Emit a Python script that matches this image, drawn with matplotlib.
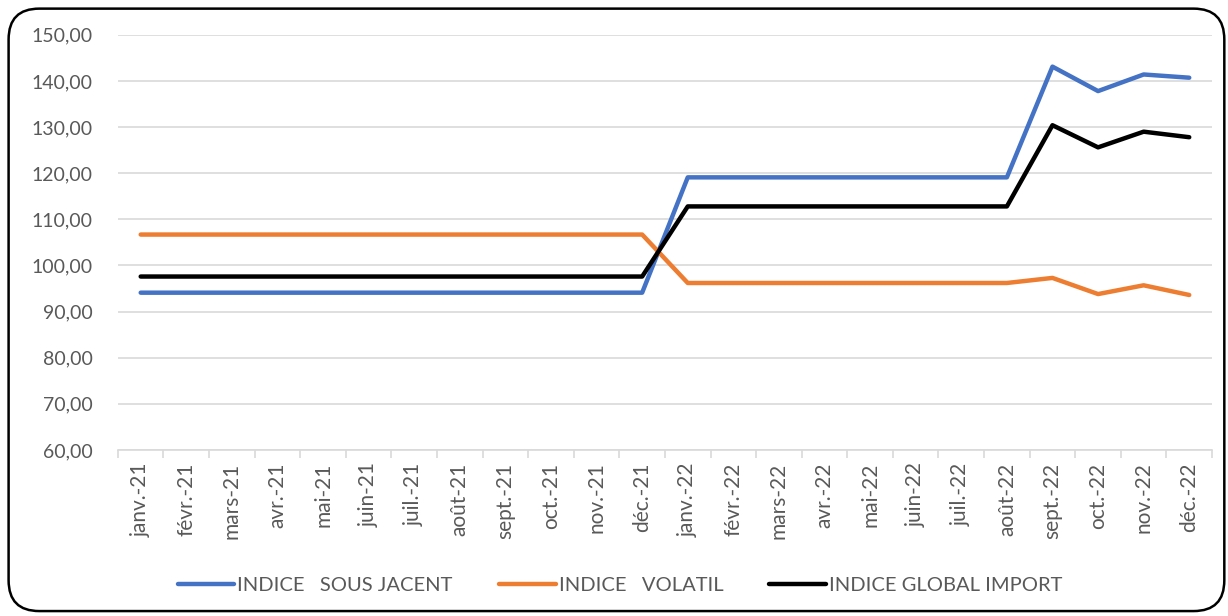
import matplotlib.pyplot as plt
from matplotlib.patches import FancyBboxPatch

plt.rcParams['font.family'] = ['Lato', 'DejaVu Sans']

mois = ['janv.-21', 'févr.-21', 'mars-21', 'avr.-21', 'mai-21', 'juin-21',
        'juil.-21', 'août-21', 'sept.-21', 'oct.-21', 'nov.-21', 'déc.-21',
        'janv.-22', 'févr.-22', 'mars-22', 'avr.-22', 'mai-22', 'juin-22',
        'juil.-22', 'août-22', 'sept.-22', 'oct.-22', 'nov.-22', 'déc.-22']

sous_jacent = [94.1] * 12 + [119.1] * 8 + [143.1, 137.8, 141.4, 140.7]
volatil = [106.7] * 12 + [96.2] * 8 + [97.3, 93.8, 95.7, 93.6]
global_import = [97.6] * 12 + [112.8] * 8 + [130.4, 125.6, 129.0, 127.8]

yticks = [60, 70, 80, 90, 100, 110, 120, 130, 140, 150]

fig = plt.figure(figsize=(12.28, 6.16), dpi=100)
ax = fig.add_axes([0.096, 0.2695, 0.891, 0.674])

x = range(len(mois))
ax.plot(x, sous_jacent, color='#4472C4', lw=3.2, solid_capstyle='round',
        label='INDICE   SOUS JACENT')
ax.plot(x, volatil, color='#ED7D31', lw=3.2, solid_capstyle='round',
        label='INDICE   VOLATIL')
ax.plot(x, global_import, color='black', lw=3.2, solid_capstyle='round',
        label='INDICE GLOBAL IMPORT')

ax.set_xlim(-0.5, len(mois) - 0.5)
ax.set_ylim(60, 150)
ax.set_yticks(yticks)
ax.set_yticklabels([f'{v:.2f}'.replace('.', ',') for v in yticks],
                   fontsize=14, color='#595959')
ax.grid(axis='y', color='#d9d9d9', lw=1.2)
ax.set_axisbelow(True)

ax.set_xticks(list(x))
ax.set_xticklabels(mois, rotation=90, fontsize=15, color='#595959')
ax.set_xticks([i - 0.5 for i in range(len(mois) + 1)], minor=True)
ax.tick_params(axis='x', which='major', length=0, pad=9)
ax.tick_params(axis='x', which='minor', length=6, color='#d9d9d9', width=1.2)
ax.tick_params(axis='y', length=0, pad=18)

for s in ['top', 'right', 'left']:
    ax.spines[s].set_visible(False)
ax.spines['bottom'].set_color('#d9d9d9')
ax.spines['bottom'].set_linewidth(1.2)

fig.legend(loc='center', bbox_to_anchor=(0.505, 0.05), ncol=3, frameon=False,
           fontsize=14.5, handlelength=2.8, handletextpad=0.15,
           columnspacing=2.3, labelcolor='#595959')

border = FancyBboxPatch((0.007, 0.008), 0.99, 0.978,
                        boxstyle='round,pad=0,rounding_size=0.025',
                        transform=fig.transFigure, fill=False,
                        ec='black', lw=1.8, mutation_aspect=2)
fig.patches.append(border)

fig.savefig('out.png', dpi=100)
